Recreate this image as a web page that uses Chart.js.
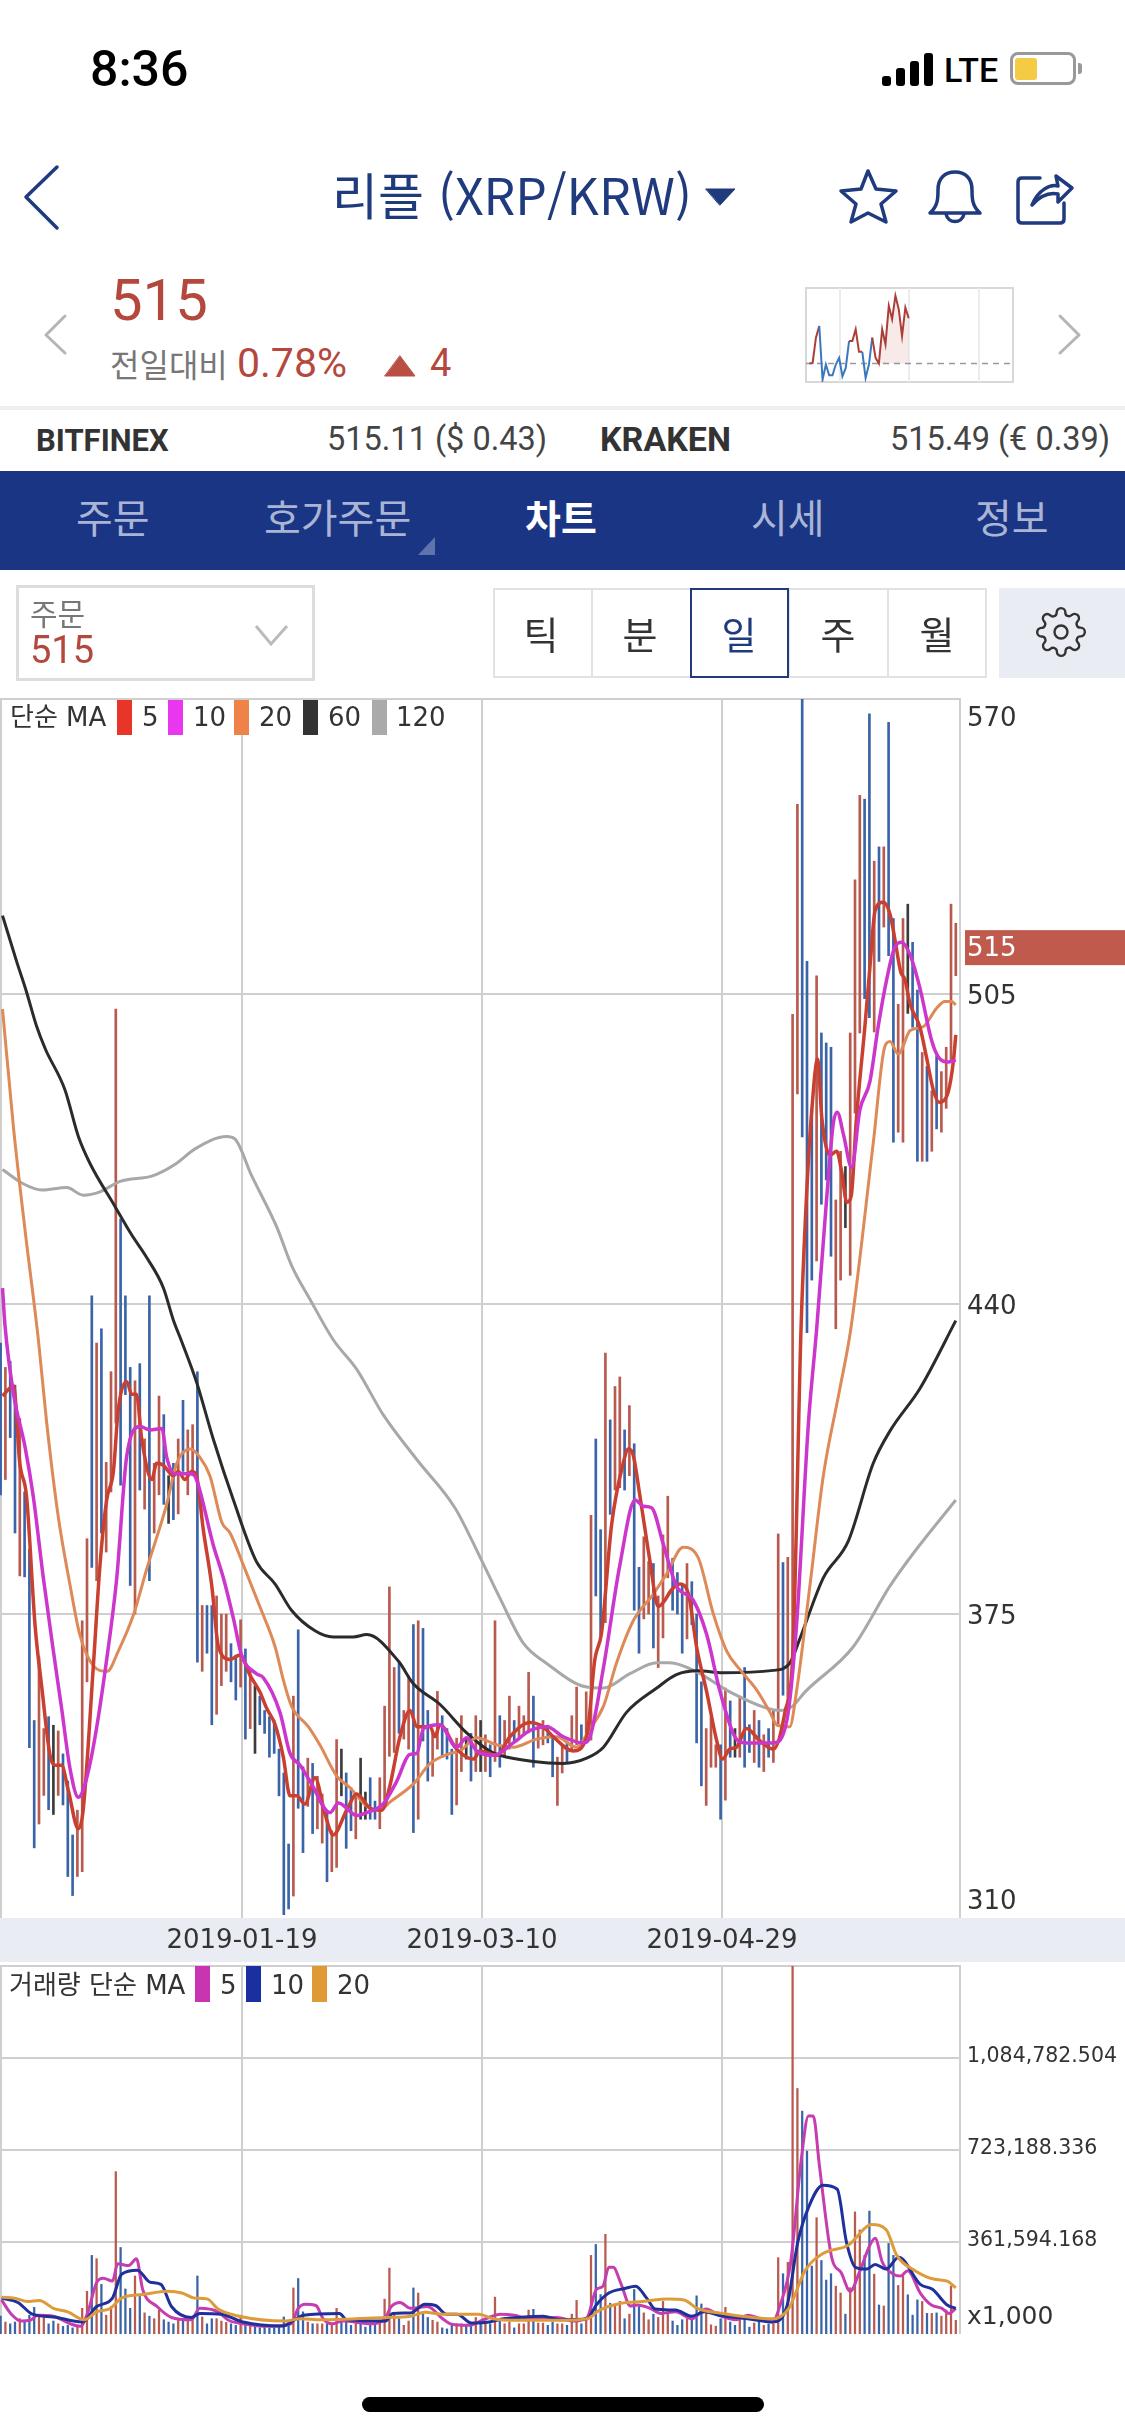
<!DOCTYPE html>
<html lang="ko">
  <head>
    <meta charset="utf-8" />
    <title>리플 (XRP/KRW)</title>
    <style>
      * { margin: 0; padding: 0; box-sizing: border-box; }
      body { width: 1125px; height: 2436px; background: #fff; position: relative; overflow: hidden;
        font-family: "Noto Sans CJK KR", "Noto Sans", sans-serif; }
      .t { position: absolute; white-space: nowrap; transform: translateY(-50%); line-height: 1; }
      .b { position: absolute; }
      .lg { font-family: "DejaVu Sans", "Noto Sans CJK KR", sans-serif; font-size: 26px; color: #333; }
      canvas { position: absolute; left: 0; }
      svg { position: absolute; overflow: visible; }
    </style>
  </head>
  <body>
    <!-- status bar -->
    <div class="t" style="left:90px;top:69px;font:500 50px Roboto;color:#000">8:36</div>
    <div class="b" style="left:882px;top:76px;width:9px;height:10px;background:#000;border-radius:3px"></div>
    <div class="b" style="left:896px;top:68px;width:9px;height:18px;background:#000;border-radius:3px"></div>
    <div class="b" style="left:910px;top:61px;width:9px;height:25px;background:#000;border-radius:3px"></div>
    <div class="b" style="left:924px;top:53px;width:9px;height:33px;background:#000;border-radius:3px"></div>
    <div class="t" style="left:944px;top:70px;font:500 34px Roboto;color:#000">LTE</div>
    <div class="b" style="left:1010px;top:52px;width:66px;height:33px;border:3px solid #999;border-radius:8px"></div>
    <div class="b" style="left:1015px;top:58px;width:22px;height:22px;background:#f5cb45;border-radius:3px"></div>
    <div class="b" style="left:1078px;top:63px;width:4px;height:11px;background:#999;border-radius:0 3px 3px 0"></div>

    <!-- title row -->
    <svg style="left:0;top:0" width="1125" height="400" fill="none" stroke-linejoin="round" stroke-linecap="round">
      <path d="M57 167 L26 197 L57 228" stroke="#1f3a7d" stroke-width="3.5" />
      <path d="M706 189 L735 189 L720 205 Z" fill="#1f3a7d" stroke="#1f3a7d" />
      <g stroke="#1f3a7d" stroke-width="3.5">
        <path d="M868 171 L876 189 L896 191 L881 204 L886 222 L868 213 L851 222 L856 204 L841 191 L861 189 Z" />
        <path d="M930 213 C938 206 938 198 938 190 C938 178 945 172 955 172 C965 172 972 178 972 190 C972 198 972 206 980 213 Z M946 214 C948 224 962 224 964 214" />
        <path d="M1040 178 L1022 178 Q1018 178 1018 182 L1018 219 Q1018 223 1022 223 L1060 223 Q1064 223 1064 219 L1064 203" />
        <path d="M1032 205 C1038 190 1050 184 1058 186 L1056 176 L1072 188 L1058 202 L1058 194 C1048 192 1040 196 1032 205 Z" />
      </g>
      <path d="M65 316 L46 335 L65 353" stroke="#b5b5b5" stroke-width="3" />
      <path d="M1060 316 L1079 335 L1060 353" stroke="#b5b5b5" stroke-width="3" />
      <path d="M385 376 L415 376 L400 356 Z" fill="#b94f43" stroke="#b94f43" />
    </svg>
    <div class="t" style="left:332px;top:193px;font-size:50px;color:#1f3a7d">리플 (XRP/KRW)</div>

    <!-- price -->
    <div class="t" style="left:110px;top:300px;font:400 58px Roboto;color:#b5483d">515</div>
    <div class="t" style="left:110px;top:363px;font-size:32px;color:#777">전일대비</div>
    <div class="t" style="left:237px;top:363px;font:400 41px Roboto;color:#b5483d">0.78%</div>
    <div class="t" style="left:430px;top:363px;font:400 38px Roboto;color:#b5483d">4</div>
    <div class="b" style="left:805px;top:287px;width:209px;height:96px;border:2px solid #d8d8d8"></div>
    <canvas id="miniChart" width="207" height="94" style="left:806px;top:288px"></canvas>

    <!-- exchange row -->
    <div class="b" style="left:0;top:406px;width:1125px;height:4px;background:#eeeeee"></div>
    <div class="t" style="left:36px;top:440px;font:700 31px Roboto;color:#333">BITFINEX</div>
    <div class="t" style="left:327px;top:439px;font:400 32.5px Roboto;color:#444">515.11 ($ 0.43)</div>
    <div class="t" style="left:600px;top:439px;font:700 34px Roboto;color:#333">KRAKEN</div>
    <div class="t" style="left:890px;top:439px;font:400 32.5px Roboto;color:#444">515.49 (€ 0.39)</div>

    <!-- tabs -->
    <div class="b" style="left:0;top:471px;width:1125px;height:99px;background:#1a3583"></div>
    <div class="t" style="left:76px;top:516px;font-size:40px;color:#aab5d6">주문</div>
    <div class="t" style="left:264px;top:516px;font-size:40px;color:#aab5d6">호가주문</div>
    <div class="t" style="left:525px;top:516px;font-size:39px;font-weight:700;color:#fff">차트</div>
    <div class="t" style="left:751px;top:516px;font-size:40px;color:#aab5d6">시세</div>
    <div class="t" style="left:975px;top:516px;font-size:40px;color:#aab5d6">정보</div>
    <svg style="left:0;top:0" width="1125" height="600"><path d="M435 537 L435 555 L418 555 Z" fill="#5f74ad" /></svg>

    <!-- order box and period buttons -->
    <div class="b" style="left:16px;top:585px;width:299px;height:96px;border:3px solid #ddd"></div>
    <div class="t" style="left:30px;top:612px;font-size:30px;color:#777">주문</div>
    <div class="t" style="left:30px;top:650px;font:400 38px Roboto;color:#b5483d">515</div>
    <svg style="left:0;top:0" width="1125" height="700" fill="none">
      <path d="M256 626 L271 644 L287 626" stroke="#bbb" stroke-width="3" />
    </svg>
    <div class="b" style="left:493px;top:588px;width:494px;height:90px;border:2px solid #e2e2e2"></div>
    <div class="b" style="left:591px;top:588px;width:2px;height:90px;background:#e2e2e2"></div>
    <div class="b" style="left:788px;top:588px;width:2px;height:90px;background:#e2e2e2"></div>
    <div class="b" style="left:887px;top:588px;width:2px;height:90px;background:#e2e2e2"></div>
    <div class="b" style="left:690px;top:588px;width:99px;height:90px;border:2px solid #1f3a7d"></div>
    <div class="t" style="left:541px;top:633px;font-size:38px;color:#333;transform:translate(-50%,-50%)">틱</div>
    <div class="t" style="left:640px;top:633px;font-size:38px;color:#333;transform:translate(-50%,-50%)">분</div>
    <div class="t" style="left:739px;top:633px;font-size:38px;color:#1f3a7d;transform:translate(-50%,-50%)">일</div>
    <div class="t" style="left:838px;top:633px;font-size:38px;color:#333;transform:translate(-50%,-50%)">주</div>
    <div class="t" style="left:937px;top:633px;font-size:38px;color:#333;transform:translate(-50%,-50%)">월</div>
    <div class="b" style="left:999px;top:588px;width:126px;height:90px;background:#e9ecf2"></div>
    <svg style="left:1035px;top:606px" width="52" height="52" viewBox="0 0 24 24" fill="none" stroke="#333" stroke-width="1.1" stroke-linecap="round" stroke-linejoin="round">
      <path d="M12 15a3 3 0 1 0 0-6 3 3 0 0 0 0 6z" />
      <path d="M19.4 15a1.65 1.65 0 0 0 .33 1.82l.06.06a2 2 0 0 1 0 2.83 2 2 0 0 1-2.83 0l-.06-.06a1.65 1.65 0 0 0-1.82-.33 1.65 1.65 0 0 0-1 1.51V21a2 2 0 0 1-2 2 2 2 0 0 1-2-2v-.09A1.65 1.65 0 0 0 9 19.4a1.65 1.65 0 0 0-1.82.33l-.06.06a2 2 0 0 1-2.83 0 2 2 0 0 1 0-2.83l.06-.06a1.65 1.65 0 0 0 .33-1.82 1.65 1.65 0 0 0-1.51-1H3a2 2 0 0 1-2-2 2 2 0 0 1 2-2h.09A1.65 1.65 0 0 0 4.6 9a1.65 1.65 0 0 0-.33-1.82l-.06-.06a2 2 0 0 1 0-2.83 2 2 0 0 1 2.83 0l.06.06a1.65 1.65 0 0 0 1.82.33H9a1.65 1.65 0 0 0 1-1.51V3a2 2 0 0 1 2-2 2 2 0 0 1 2 2v.09a1.65 1.65 0 0 0 1 1.51 1.65 1.65 0 0 0 1.82-.33l.06-.06a2 2 0 0 1 2.83 0 2 2 0 0 1 0 2.83l-.06.06a1.65 1.65 0 0 0-.33 1.82V9a1.65 1.65 0 0 0 1.51 1H21a2 2 0 0 1 2 2 2 2 0 0 1-2 2h-.09a1.65 1.65 0 0 0-1.51 1z" />
    </svg>

    <!-- chart frames and the date band -->
    <div class="b" style="left:0;top:698px;width:961px;height:1220px;border:solid #cfcfcf;border-width:2px 2px 0 2px"></div>
    <div class="b" style="left:0;top:1918px;width:1125px;height:44px;background:#e9ecf2"></div>
    <div class="b" style="left:0;top:1965px;width:961px;height:369px;border:solid #cfcfcf;border-width:2px 2px 0 2px"></div>

    <canvas id="priceChart" width="1125" height="1272" style="top:690px"></canvas>
    <canvas id="volumeChart" width="1125" height="370" style="top:1966px"></canvas>

    <!-- legends -->
    <div class="t lg" style="left:10px;top:717px">단순 MA</div>
    <div class="b" style="left:117px;top:700px;width:15px;height:35px;background:#e8352a"></div>
    <div class="t lg" style="left:142px;top:717px">5</div>
    <div class="b" style="left:168px;top:700px;width:15px;height:35px;background:#e837ee"></div>
    <div class="t lg" style="left:193px;top:717px">10</div>
    <div class="b" style="left:234px;top:700px;width:15px;height:35px;background:#ee8248"></div>
    <div class="t lg" style="left:259px;top:717px">20</div>
    <div class="b" style="left:303px;top:700px;width:15px;height:35px;background:#333"></div>
    <div class="t lg" style="left:328px;top:717px">60</div>
    <div class="b" style="left:372px;top:700px;width:15px;height:35px;background:#aaa"></div>
    <div class="t lg" style="left:396px;top:717px">120</div>

    <div class="t lg" style="left:9px;top:1985px">거래량 단순 MA</div>
    <div class="b" style="left:195px;top:1966px;width:15px;height:36px;background:#c935b0"></div>
    <div class="t lg" style="left:220px;top:1985px">5</div>
    <div class="b" style="left:246px;top:1966px;width:15px;height:36px;background:#1a2fa0"></div>
    <div class="t lg" style="left:271px;top:1985px">10</div>
    <div class="b" style="left:312px;top:1966px;width:15px;height:36px;background:#e09a35"></div>
    <div class="t lg" style="left:337px;top:1985px">20</div>

    <div class="b" style="left:362px;top:2397px;width:402px;height:15px;background:#000;border-radius:8px"></div>

    <script src="https://cdn.jsdelivr.net/npm/chart.js/dist/chart.umd.min.js"></script>
    <script>
      // one char per daily candle: u = up, d = down, n = flat
      const directions = (
        "dudduddduu" + "dnuddduuud" + "uduuudddud" + "uduudndudu" + "ududduuudd" +
        "udundddddd" + "dudduduudu" + "unddunnddu" + "uuuduududd" + "uuddduundu" +
        "nududuuduu" + "uduudduudu" + "uduudduduu" + "dudduuduuu" + "ddduddduuu" +
        "dudnuddudu" + "duuduuuddd" + "uddduunuuu" + "ddududduun" + "ddududuuuu"
      ).split("");
      const highs = [
        431.8, 426.7, 428, 423, 416, 400.6, 388.6, 352.7, 366, 351,
        353.5, 351.7, 350.5, 345.7, 340, 328.7, 333.9, 373.6, 390.8, 441.7,
        431.8, 434.8, 406.8, 425.8, 501.8, 457.8, 441.7, 426.7, 423.9, 427.5,
        411.7, 441.7, 406.6, 420.7, 416.8, 404, 406.6, 411.7, 419.8, 413.6,
        414.7, 425.8, 376.8, 376.8, 376.8, 378.8, 375, 375, 368.8, 366.4,
        373.8, 367.7, 363.4, 360, 357.8, 354.8, 353.5, 352.7, 346.7, 341.7,
        326.8, 357.8, 371.7, 343, 344.8, 343.7, 341, 337.3, 333.9, 329.6,
        348.7, 346.7, 341.7, 338.6, 337.3, 344.8, 337.7, 340.7, 335.8, 340.7,
        355.7, 380.7, 363.8, 364.7, 354.8, 362, 372.8, 373.6, 372, 354.8,
        350, 358.8, 353.7, 351, 346.7, 349, 353.7, 349, 350, 353.7,
        352.7, 349.7, 347.6, 373.6, 353.7, 352.7, 357.8, 352.7, 355.7, 353.7,
        362.8, 357.8, 351, 352.7, 351.7, 349.4, 345, 347.6, 348.4, 353.7,
        359.7, 351.8, 358.7, 395.7, 411.7, 392.7, 429.7, 415.7, 422.7, 424.7,
        413.6, 418.7, 410.7, 384.8, 391.2, 386, 385.6, 378.8, 391.6, 399.7,
        386.7, 383.7, 380.9, 385.6, 381.8, 375, 360.8, 351, 353.5, 347.6,
        347.6, 359.5, 356.8, 351, 357.8, 363.8, 351.8, 354.8, 352.7, 349.7,
        351, 354.8, 391.8, 385.8, 386.9, 500.7, 544.7, 567, 511.8, 480.6,
        508.8, 496.8, 494.7, 493.8, 461.8, 472, 468.8, 496.8, 528.9, 546.6,
        545.8, 563.7, 532.8, 535.8, 535.8, 561.9, 520.8, 502.8, 520.8, 523.8,
        515.8, 505.8, 492.7, 489.8, 484.7, 492, 488.7, 493.8, 523.8, 519.8,
      ];
      const lows = [
        400, 403.2, 412, 392, 383, 382.8, 347, 326, 331, 337,
        334, 333, 337, 335, 320, 316, 320, 321, 360.8, 384.8,
        382, 392, 388, 400.6, 415, 402, 421, 381, 375, 401,
        397, 382, 392, 400, 398, 394, 394.8, 396, 404.9, 400,
        404, 364.9, 363, 366.8, 351.8, 354, 360, 363, 360.8, 357,
        359.7, 348.8, 351, 345.8, 351.8, 350, 345, 345.8, 336.9, 312,
        313.2, 315.9, 334.3, 325, 334.7, 329, 330, 327, 318.9, 321,
        321.9, 336.9, 325.9, 329.6, 327.9, 332, 332, 332, 332, 330,
        336, 345.2, 346, 350, 348.8, 346.7, 329.2, 332, 348.4, 340,
        341, 346.7, 345, 344.6, 333, 335, 342, 344.6, 340, 342,
        342, 342, 340.9, 344.1, 342.9, 345, 346.7, 348.4, 349.3, 349.7,
        350.1, 342.9, 346.9, 347.6, 348, 340.9, 334.9, 341.7, 343.9, 346.3,
        347.6, 348, 348.4, 348.6, 378.8, 370.7, 373.2, 395.9, 401, 401.5,
        401, 404, 375.8, 366.8, 374, 375, 367.9, 363.8, 370, 382.6,
        375.8, 375, 366.8, 369.8, 372.8, 348, 339, 334.9, 342.9, 342.9,
        332, 336, 345, 345, 345, 342.9, 346, 343.9, 342.9, 342,
        345, 343.9, 351.4, 358, 355.3, 365.5, 484, 475, 434, 445,
        449, 460.9, 466, 450, 434.8, 445, 456, 446, 480, 496.8,
        504, 500, 497, 511.8, 519, 513, 473.9, 476, 473.9, 500.9,
        498, 469.9, 469.9, 469.9, 472, 476.7, 476, 481, 491, 508.8,
      ];
      // volumes in thousands of the units on the axis labels
      const volumes = [
        70, 47, 40, 47, 60, 47, 74, 105, 74, 65,
        40, 51, 40, 30, 34, 24, 34, 101, 168, 309,
        296, 195, 74, 108, 638, 340, 177, 101, 228, 148,
        83, 70, 60, 94, 56, 47, 40, 54, 54, 60,
        60, 228, 67, 40, 60, 60, 51, 46, 40, 34,
        74, 47, 40, 40, 24, 27, 24, 24, 34, 67,
        47, 181, 218, 87, 47, 40, 40, 40, 40, 40,
        101, 47, 54, 34, 40, 47, 27, 34, 40, 54,
        137, 259, 81, 60, 34, 51, 181, 161, 81, 65,
        54, 47, 24, 20, 34, 40, 40, 34, 40, 65,
        54, 51, 40, 145, 56, 40, 47, 24, 40, 40,
        94, 97, 43, 43, 34, 47, 40, 40, 34, 78,
        132, 40, 60, 309, 352, 155, 392, 121, 118, 128,
        60, 78, 175, 114, 83, 56, 78, 65, 128, 87,
        51, 34, 56, 60, 56, 150, 118, 87, 36, 31,
        60, 105, 47, 34, 65, 60, 27, 43, 51, 34,
        40, 40, 300, 237, 282, 1446, 965, 876, 719, 267,
        457, 289, 212, 237, 188, 161, 78, 182, 480, 409,
        309, 483, 235, 114, 110, 356, 309, 191, 235, 154,
        74, 134, 128, 81, 81, 83, 70, 94, 188, 54,
      ];

      // moving averages, sampled at the turning points (day index, value)
      const ma5Days = [0.4,2.7,4,5.4,7.2,8.6,10.3,11.3,12.7,14.1,16.2,17.2,19.3,20.7,22.1,23.5,24.5,26.3,27.3,28.3,29.4,31.5,32.5,33.9,36,37,38.4,39.8,40.8,42.2,44,45.4,47.8,49.9,52,54,55.4,57.2,58.9,60.3,61.7,63.4,65.5,67.6,69.3,72.1,74.2,77,79.4,81.1,83.2,85.3,86.7,89.5,90.5,91.5,95,98.5,99.9,103.4,106.1,110.3,113,115.1,119.3,122.1,123.8,125.2,127.3,129.7,130.8,131.8,133.2,135.3,137,138.1,139.8,141.5,143.3,145,147.1,149.2,150.4,151.9,153.3,155.4,158.2,161,163.4,165.1,166.75,167.9,169,170.2,171.1,172.8,174.2,175.2,176.3,177.2,178.3,180.1,181.1,182.2,183.9,185.3,186.3,187.5,188.4,189.5,191.5,192.9,194.3,195.5,197.4,198.5,199];
      const ma5Values = [420.7,422.8,406.6,399.7,372.4,359.5,345.4,343.3,343.3,338.1,330,333.9,363.8,385.2,398.9,404.9,417.7,423.7,421.1,421.1,411.7,403.2,406.6,406.2,404,404.9,403.2,404.9,404,392.9,380.9,368.1,365.5,366.4,362.1,358.7,355.3,351.8,345,336.9,336.9,335.2,340.7,333,328.7,333.9,337.3,334.3,333.9,339,349.3,354.8,351.4,351.4,349.3,351.8,346.7,344.6,346.3,345.4,349.3,352.3,351.4,349.3,346.3,349.3,365.5,371.1,393.8,406.6,409.6,408.3,399.7,386,376.6,377.5,380.1,381.3,379.2,368.1,358.7,348.4,344.6,346.7,347.1,351,348.4,346.7,354.4,368.1,434.6,462.6,480.6,491.3,478.9,471.2,472,467.8,461.3,462.6,478.9,498.6,510.5,522.5,524.2,521.7,516.5,509.7,508,502.8,498.1,491.7,484.9,482.3,484.4,490.9,496.4];
      const ma10Days = [0.4,0.9,2.7,5.1,6.8,8.9,11,12.7,14.5,16.2,17.2,19.3,22.1,24.2,26.3,29.1,31.1,33.6,34.6,36.3,39.8,40.8,44.3,46.4,48.5,50.2,53.3,54.7,58.2,60.3,62.4,64.5,68.6,70.4,74.2,76.3,79.7,82.5,85.3,86.7,88.1,91.5,95,97.1,99.2,102.7,106.8,110.3,113.8,117.2,121.4,122.8,125.6,129,132.2,133.9,135.6,138.1,140.8,144.3,147.1,149.9,153.3,155.4,161,163.8,165.8,168.3,170,172.2,173.5,174.3,175.6,177.3,179,181.1,182.9,184.6,186.3,187.7,189.5,191.5,194,195.4,197.4,199];
      const ma10Values = [443.3,435.7,421.1,410,399.7,382.6,367.2,355.3,342.4,336.6,338.1,347.1,365.5,382.6,408.3,414.3,413.6,413.9,407.9,404.4,404.4,403.2,389.5,382.6,374.1,366.4,362.5,361.7,354.4,345.8,343.3,339.9,333.4,335.4,332.8,333.4,335.2,339.9,345.6,345.8,351,351.8,347.1,349.1,346.3,345.4,348,350.6,351.4,349.3,348,349.3,363.8,385.2,398.9,397.6,397.3,389.5,380.9,377.9,370.7,358.7,348.8,348,348,352.7,372.4,415.1,434.6,463.5,478,480.2,475.5,468.6,480.6,486.6,498.6,508,514.8,515.8,513.1,506.3,495.1,491.7,490.7,491.1];
      const ma20Days = [0.4,2.7,5.1,7.9,9.6,12,14.5,16.5,19.3,22.2,24.5,27.7,30.4,34.6,36.7,39.5,41.5,43.6,46.1,47.8,50.6,54,57.2,58.9,60.6,64.1,66.5,70,72.8,76.3,79,81.1,86,89.5,93.6,95.7,99.2,103.3,106.8,111.7,115.8,120,122.8,125.6,128.3,131.8,136,138.8,142.2,145.3,148.5,151.3,154,157.5,160.3,161.7,164.4,165.8,168.6,171.4,174.8,177.1,181.8,184.2,185.3,187,189.5,192.2,195,196.7,198.1,199];
      const ma20Values = [501.8,476.8,455.4,432.2,415.1,395.5,380.9,370.7,364.2,363,367.2,374.9,384.3,398,406.6,409.6,407.9,404,394.2,392,385.2,376.6,368.1,361.2,355.7,351.4,347.6,341.1,338.6,334.7,333.9,335.6,339.4,343.7,345.8,346.3,349.1,347.6,347.1,348.8,349.3,347.1,351,355.7,364.7,373.6,379.2,383.5,389,386.9,375,367.2,363.4,359.1,354.4,351.8,351.4,358.7,380.9,404,422,434.6,473.7,493.9,495,492.4,497.3,498.1,502,503.4,503.4,502.7];
      const ma60Days = [0.4,3.3,5.4,7.5,9.3,13.4,16.2,18.6,23.8,27.3,30.4,33.9,36,37.7,40.8,44.3,48.5,53.3,57.2,60.6,65.5,69.3,73.5,76.3,82.9,86,91.5,97.1,101.9,104,111,117.2,122.1,125.6,130.4,136.7,140.8,145.3,150.4,161,164.4,166.5,171.4,176.6,181.8,185.3,191.6,199];
      const ma60Values = [521.4,511.9,505.4,498.2,493.5,484.9,475.1,469.5,460.5,454.5,449.8,443.4,436.6,432.2,423.7,411.7,398.9,386,381.3,375.8,371.5,370.2,370.2,370.7,365.1,360.4,356.1,350.1,346.3,345.4,344.1,343.7,344.8,347.1,354.4,359.5,362.3,363.1,362.7,363.2,364.7,369.8,382.6,390.3,406.6,413.4,422.4,436.5];
      const ma120Days = [0.4,4.7,8.6,13.8,17.2,20.7,24.9,31.8,36.7,40.5,47.1,48.8,52.3,57.5,60.6,64.5,69.3,74.2,79.7,86.7,94.7,99.9,104,108.9,113.7,122.1,125.6,131.1,136.7,139.4,145,151.9,159.6,162.4,165,167.6,177.6,185.3,190.2,199];
      const ma120Values = [468.2,465.2,463.9,464.4,462.8,463.5,465.7,466.9,469.5,472.5,475.1,474.6,466.9,456.2,448.1,440.9,432.5,426.3,416.8,407.4,397.2,386.9,378.4,368.9,364.7,359.7,359.5,362.5,364.8,364.8,362.9,358.7,355.3,354.8,355.7,358.7,368.1,380.9,387.8,398.9];

      const volMa5Days = [0.2,2.1,4.3,6.2,7.7,11,14.8,16.6,18.1,20,21.4,23.3,24.4,26.7,28.3,29.6,32.6,35.6,39.7,41.5,45.3,47.5,50.5,55.7,60.5,62,63.5,65.7,67.2,69.1,71.3,77.3,79.9,81.4,83.2,85.4,88.9,92.1,94,97.4,101.1,104.1,107,110,115.9,119.5,122.2,124.1,125.5,126.7,127.6,129.3,131.2,132.7,135.3,137.6,140.6,144,147,149.6,153.3,155.6,160.8,162.3,164.6,166.8,168.3,169.3,170.6,173.2,175.1,177,178.9,181.1,182.2,183.7,186,187.5,189,191.6,193.9,196.1,197.6,199];
      const volMa5Values = [134,81,51,54,74,70,38,30,81,202,219,208,276,269,296,175,108,65,56,101,87,54,40,30,40,101,117,112,60,40,51,40,56,108,124,101,108,60,38,34,60,78,74,60,65,51,65,175,188,262,262,195,110,114,101,81,87,60,98,74,56,74,47,108,282,685,857,857,659,296,242,168,242,349,376,282,235,228,249,161,114,101,81,101];
      const volMa10Days = [0.2,3.6,6.6,11,17,20,23.3,25.2,28.5,31.1,33.4,35.6,39.7,41.5,46,50.5,58.7,61.6,63.1,70.6,72.1,80.2,81.7,85.4,88.4,90.6,92.9,95.1,98.1,101.8,104.8,107.8,113,116.5,122.2,124.1,126.7,130,132.3,134.6,136.4,140.6,144,146.6,149.6,155.6,160.8,163.8,166.1,168.3,171.3,174.3,176.2,178.1,180.4,182.2,184.5,187.1,191.6,194.2,197.2,199];
      const volMa10Values = [141,124,78,67,47,108,141,235,251,204,195,108,65,81,78,47,31,60,74,81,56,51,81,83,117,112,78,78,43,47,60,65,70,56,60,114,161,179,188,141,98,94,70,87,74,60,47,108,363,497,585,569,363,262,255,273,255,302,195,175,114,101];
      const volMa20Days = [0.2,2.9,5.5,8.1,11,14,17.4,20,22.9,25.2,29.6,34.8,37.8,40.4,43,45.3,49.7,59.4,62.4,66.8,80.2,85.4,88.4,92.1,99.6,102.6,107.8,115.9,122.2,124.8,129.3,133.8,139,142.4,145.1,150.3,160.8,164.2,167.6,171.3,176.6,181.5,184.5,186.7,190.5,194.6,197.2,199];
      const volMa20Values = [144,141,128,132,101,87,56,87,101,141,155,168,161,141,138,98,70,51,60,56,65,70,85,78,78,60,54,54,60,94,121,128,138,134,101,81,60,101,249,316,349,430,410,309,249,215,208,181];

      // ticks
      const priceTicks = [563.3, 515, 505, 440, 375, 315.4];
      const priceTickLabels = ["570", "515", "505", "440", "375", "310"];
      const priceGridTicks = [505, 440, 375];
      const currentPrice = 515;
      const dateTickDays = [50.3, 100.3, 150.3];
      const dateTickLabels = ["2019-01-19", "2019-03-10", "2019-04-29"];
      const volumeGridTicks = [361.594168, 723.188336, 1084.782504];
      const volumeLabelTicks = [59, 361.594168, 723.188336, 1084.782504];
      const volumeTickLabels = ["x1,000", "361,594.168", "723,188.336", "1,084,782.504"];

      // sparkline in the header, change from the previous close
      const miniValues = [0,2,77,112,-48,-3,-35,-35,-3,17,-38,-13,67,67,102,35,35,-43,-3,77,17,0,102,57,172,132,202,162,82,167,135];
      const miniGridDays = [9.3, 30.2, 51.2];

      const UP = "#b85a4e", DOWN = "#3a63a8", FLAT = "#3c3c3c", GRID = "#cfcfcf";
      const colorOf = (d) => (d === "u" ? UP : d === "d" ? DOWN : FLAT);
      const pairs = (xs, ys) => xs.map((x, i) => ({ x, y: ys[i] }));
      const noLabelOverflow = (width) => (axis) => {
        axis.width = width;
        axis.paddingTop = 0;
        axis.paddingBottom = 0;
      };

      function maLine(days, values, color, width, order) {
        return {
          type: "line",
          data: pairs(days, values),
          borderColor: color,
          borderWidth: width,
          pointRadius: 0,
          cubicInterpolationMode: "monotone",
          borderJoinStyle: "round",
          order,
        };
      }

      const dayAxis = {
        type: "linear",
        min: -0.125,
        max: 199.875,
        offset: false,
        border: { display: false },
        grid: { color: GRID, lineWidth: 2, drawTicks: false, offset: false },
      };

      // band behind the current price label
      const priceBand = {
        id: "priceBand",
        beforeDraw(chart) {
          const y = chart.scales.y.getPixelForValue(currentPrice);
          chart.ctx.fillStyle = "#bf5a4d";
          chart.ctx.fillRect(965, y - 16, 160, 35);
        },
      };

      new Chart(document.getElementById("priceChart"), {
        plugins: [priceBand],
        data: {
          datasets: [
            {
              type: "bar",
              data: highs.map((h, i) => ({ x: i, y: [lows[i], h] })),
              backgroundColor: directions.map(colorOf),
              barThickness: 2,
              order: 10,
            },
            maLine(ma120Days, ma120Values, "#a8a8a8", 3, 5),
            maLine(ma60Days, ma60Values, "#2b2b2b", 3, 4),
            maLine(ma20Days, ma20Values, "#dd8a58", 3, 3),
            maLine(ma5Days, ma5Values, "#c93f30", 3.5, 2),
            maLine(ma10Days, ma10Values, "#cc36cc", 3.5, 1),
          ],
        },
        options: {
          responsive: false,
          animation: false,
          devicePixelRatio: 1,
          layout: { padding: { top: 9 } },
          plugins: { legend: { display: false }, tooltip: { enabled: false } },
          scales: {
            x: {
              ...dayAxis,
              afterBuildTicks: (axis) => { axis.ticks = dateTickDays.map((value) => ({ value })); },
              afterFit: (axis) => { axis.height = 44; },
              ticks: {
                autoSkip: false,
                maxRotation: 0,
                padding: 8,
                color: "#333",
                font: { family: "DejaVu Sans", size: 26 },
                callback: (v) => dateTickLabels[dateTickDays.indexOf(v)],
              },
            },
            y: {
              position: "right",
              min: 311.3,
              max: 566.8,
              border: { display: false },
              afterBuildTicks: (axis) => { axis.ticks = priceGridTicks.map((value) => ({ value })); },
              afterFit: noLabelOverflow(0),
              grid: { color: GRID, lineWidth: 2, drawTicks: false },
              ticks: { display: false },
            },
            // same range as y, moved down a few pixels to centre the labels on their grid lines
            yLabels: {
              position: "right",
              min: 312,
              max: 567.5,
              border: { display: false },
              grid: { display: false, drawTicks: false },
              afterBuildTicks: (axis) => { axis.ticks = priceTicks.map((value) => ({ value })); },
              afterFit: noLabelOverflow(165),
              ticks: {
                autoSkip: false,
                padding: 7,
                color: (c) => (c.tick.value === currentPrice ? "#fff" : "#333"),
                font: { family: "DejaVu Sans", size: 26 },
                callback: (v) => priceTickLabels[priceTicks.indexOf(v)],
              },
            },
          },
        },
      });

      new Chart(document.getElementById("volumeChart"), {
        data: {
          datasets: [
            {
              type: "bar",
              data: volumes.map((v, i) => ({ x: i, y: v })),
              backgroundColor: directions.map((d) => (d === "u" ? UP : DOWN)),
              barThickness: 1.6,
              order: 10,
            },
            maLine(volMa20Days, volMa20Values, "#dd9b3a", 3, 1),
            maLine(volMa5Days, volMa5Values, "#c53db0", 3, 3),
            maLine(volMa10Days, volMa10Values, "#1f2f9c", 3, 2),
          ],
        },
        options: {
          responsive: false,
          animation: false,
          devicePixelRatio: 1,
          layout: { padding: { bottom: 2 } },
          plugins: { legend: { display: false }, tooltip: { enabled: false } },
          scales: {
            x: {
              ...dayAxis,
              afterBuildTicks: (axis) => { axis.ticks = dateTickDays.map((value) => ({ value })); },
              ticks: { display: false },
            },
            y: {
              position: "right",
              min: 0,
              max: 1446.4,
              border: { display: false },
              afterBuildTicks: (axis) => { axis.ticks = volumeGridTicks.map((value) => ({ value })); },
              afterFit: noLabelOverflow(0),
              grid: { color: GRID, lineWidth: 2, drawTicks: false },
              ticks: { display: false },
            },
            // same height as y, moved up a pixel so labels sit just above their grid lines
            yLabels: {
              position: "right",
              min: -4,
              max: 1442.4,
              border: { display: false },
              grid: { display: false, drawTicks: false },
              afterBuildTicks: (axis) => { axis.ticks = volumeLabelTicks.map((value) => ({ value })); },
              afterFit: noLabelOverflow(165),
              ticks: {
                autoSkip: false,
                padding: 7,
                color: "#333",
                font: (c) => ({ family: "DejaVu Sans", size: c.index === 0 ? 25 : 20.5 }),
                callback: (v) => volumeTickLabels[volumeLabelTicks.indexOf(v)],
              },
            },
          },
        },
      });

      new Chart(document.getElementById("miniChart"), {
        type: "line",
        data: {
          datasets: [
            {
              data: miniValues.map((v, i) => ({ x: i, y: v })),
              borderWidth: 2,
              pointRadius: 0,
              segment: {
                borderColor: (c) => (c.p0.parsed.y < 0 || c.p1.parsed.y < 0 ? "#3a78c0" : "#ab3f38"),
              },
            },
            {
              // the last rally is the only part that carries the pink wash
              data: miniValues.map((v, i) => ({ x: i, y: v })).slice(21),
              borderWidth: 0,
              pointRadius: 0,
              fill: { target: { value: 0 }, above: "rgba(200,90,80,0.13)" },
            },
            {
              data: [{ x: -1, y: 0 }, { x: 61.5, y: 0 }],
              borderColor: "#999",
              borderWidth: 1.5,
              borderDash: [6, 5],
              pointRadius: 0,
            },
          ],
        },
        options: {
          responsive: false,
          animation: false,
          devicePixelRatio: 1,
          layout: { padding: 0 },
          plugins: { legend: { display: false }, tooltip: { enabled: false } },
          scales: {
            x: {
              type: "linear",
              min: -1,
              max: 61.5,
              border: { display: false },
              afterBuildTicks: (axis) => { axis.ticks = miniGridDays.map((value) => ({ value })); },
              afterFit: (axis) => { axis.height = 0; },
              grid: { color: "#ececec", lineWidth: 2, drawTicks: false },
              ticks: { display: false },
            },
            y: {
              min: -55,
              max: 225,
              display: false,
            },
          },
        },
      });
    </script>
  </body>
</html>
